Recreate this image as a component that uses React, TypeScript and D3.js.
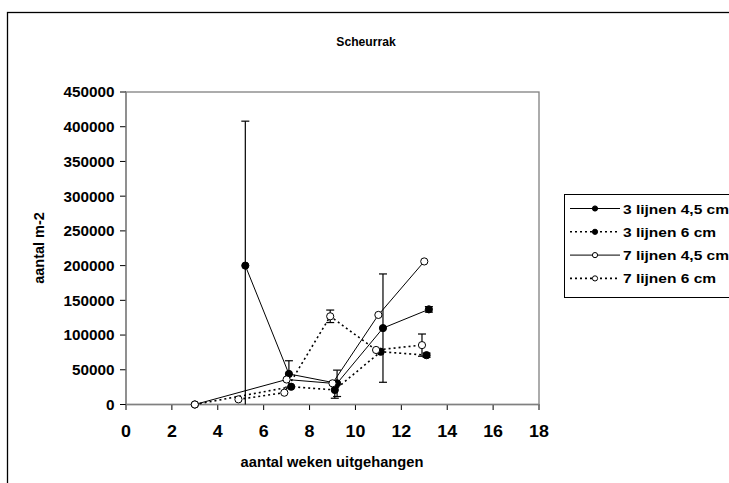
import { useEffect, useRef } from "react";
import * as d3 from "d3";

const W = 729;
const H = 483;

const seriesNames = ["3 lijnen 4,5 cm", "3 lijnen 6 cm", "7 lijnen 4,5 cm", "7 lijnen 6 cm"];
const seriesDotted = [false, true, false, true];
const seriesFilled = [true, true, false, false];

// weeks, counts and error (0 = no bar) per series
const s1Weeks = [5.2, 7.1, 9.2, 11.2, 13.2];
const s1Values = [200000, 44000, 30500, 110000, 137000];
const s1Errors = [208000, 19000, 19000, 78000, 4000];

const s2Weeks = [3, 7.2, 9.1, 11.1, 13.1];
const s2Values = [0, 25600, 21000, 76000, 71000];
const s2Errors = [0, 0, 12000, 0, 3000];

const s3Weeks = [3, 7, 9, 11, 13];
const s3Values = [0, 36000, 30500, 129000, 206000];
const s3Errors = [0, 0, 0, 0, 0];

const s4Weeks = [4.9, 6.9, 8.9, 10.9, 12.9];
const s4Values = [7400, 17000, 127000, 78500, 85500];
const s4Errors = [0, 0, 9000, 0, 16000];

const xTicks = [0, 2, 4, 6, 8, 10, 12, 14, 16, 18];
const yTicks = [0, 50000, 100000, 150000, 200000, 250000, 300000, 350000, 400000, 450000];

const FONT = "'Liberation Sans', Arial, sans-serif";

const App = () => {
  const svgRef = useRef<SVGSVGElement>(null);

  useEffect(() => {
    const svg = d3.select(svgRef.current);
    svg.selectAll("*").remove();

    const x = d3.scaleLinear().domain([0, 18]).range([126, 539]);
    const y = d3.scaleLinear().domain([0, 450000]).range([404.5, 92]);

    // bold text, stretched horizontally like the original export
    const label = (tx: number, ty: number, txt: string, size: number, sx: number, anchor: string, rot = 0) =>
      svg
        .append("text")
        .attr("transform", `translate(${tx},${ty}) rotate(${rot}) scale(${sx},1)`)
        .attr("text-anchor", anchor)
        .attr("font-family", FONT)
        .attr("font-weight", "bold")
        .attr("font-size", size)
        .attr("fill", "#000")
        .text(txt);

    // outer chart frame (runs off the page right/bottom)
    svg
      .append("rect")
      .attr("x", 7.5)
      .attr("y", 12.5)
      .attr("width", 900)
      .attr("height", 700)
      .attr("fill", "white")
      .attr("stroke", "#000")
      .attr("stroke-width", 1.3);

    // plot area frame
    svg
      .append("rect")
      .attr("x", 126)
      .attr("y", 92)
      .attr("width", 413)
      .attr("height", 312.5)
      .attr("fill", "none")
      .attr("stroke", "#808080")
      .attr("stroke-width", 1.3);

    label(366, 46, "Scheurrak", 13.5, 0.9, "middle");

    // axes
    const ax = svg.append("g").attr("stroke", "#000").attr("stroke-width", 1);
    xTicks.forEach((t) => {
      ax.append("line").attr("x1", x(t)).attr("x2", x(t)).attr("y1", 404.5).attr("y2", 410);
      label(x(t), 437, String(t), 17, 1.05, "middle");
    });
    yTicks.forEach((t) => {
      ax.append("line").attr("x1", 120).attr("x2", 126).attr("y1", y(t)).attr("y2", y(t));
      label(114.5, y(t) + 5.4, String(t), 15, 1.02, "end");
    });
    svg
      .append("line")
      .attr("x1", 126)
      .attr("x2", 539)
      .attr("y1", 404.5)
      .attr("y2", 404.5)
      .attr("stroke", "#808080")
      .attr("stroke-width", 1.3);
    svg
      .append("line")
      .attr("x1", 126)
      .attr("x2", 126)
      .attr("y1", 92)
      .attr("y2", 404.5)
      .attr("stroke", "#808080")
      .attr("stroke-width", 1.3);

    label(332, 466.5, "aantal weken uitgehangen", 14, 1.05, "middle");
    label(44, 248, "aantal m-2", 14.5, 1, "middle", -90);

    const all = [
      { w: s1Weeks, v: s1Values, e: s1Errors },
      { w: s2Weeks, v: s2Values, e: s2Errors },
      { w: s3Weeks, v: s3Values, e: s3Errors },
      { w: s4Weeks, v: s4Values, e: s4Errors },
    ];

    const line = d3
      .line<[number, number]>()
      .x((d) => x(d[0]))
      .y((d) => y(d[1]));

    // error bars
    all.forEach((s) => {
      s.w.forEach((wk, i) => {
        const err = s.e[i];
        if (!err) return;
        const lo = Math.max(0, s.v[i] - err);
        const hi = s.v[i] + err;
        const g = svg.append("g").attr("stroke", "#000").attr("stroke-width", 1.2);
        g.append("line").attr("x1", x(wk)).attr("x2", x(wk)).attr("y1", y(lo)).attr("y2", y(hi));
        g.append("line").attr("x1", x(wk) - 4).attr("x2", x(wk) + 4).attr("y1", y(hi)).attr("y2", y(hi));
        if (s.v[i] - err > 0)
          g.append("line").attr("x1", x(wk) - 4).attr("x2", x(wk) + 4).attr("y1", y(lo)).attr("y2", y(lo));
      });
    });

    // lines then markers
    all.forEach((s, k) => {
      const pts = s.w.map((wk, i) => [wk, s.v[i]] as [number, number]);
      svg
        .append("path")
        .attr("d", line(pts))
        .attr("fill", "none")
        .attr("stroke", "#000")
        .attr("stroke-width", seriesDotted[k] ? 1.6 : 1)
        .attr("stroke-dasharray", seriesDotted[k] ? "2,3" : null);
    });
    all.forEach((s, k) => {
      svg
        .append("g")
        .selectAll("circle")
        .data(s.w.map((wk, i) => [wk, s.v[i]]))
        .join("circle")
        .attr("cx", (d) => x(d[0]))
        .attr("cy", (d) => y(d[1]))
        .attr("r", 3.6)
        .attr("fill", seriesFilled[k] ? "#000" : "#fff")
        .attr("stroke", "#000")
        .attr("stroke-width", 1);
    });

    // legend
    svg
      .append("rect")
      .attr("x", 564.5)
      .attr("y", 194.5)
      .attr("width", 200)
      .attr("height", 103)
      .attr("fill", "white")
      .attr("stroke", "#000")
      .attr("stroke-width", 1);
    seriesNames.forEach((name, k) => {
      const cy = 208.5 + k * 23.3;
      svg
        .append("line")
        .attr("x1", 570)
        .attr("x2", 620)
        .attr("y1", cy)
        .attr("y2", cy)
        .attr("stroke", "#000")
        .attr("stroke-width", seriesDotted[k] ? 1.6 : 1)
        .attr("stroke-dasharray", seriesDotted[k] ? "2,3" : null);
      svg
        .append("circle")
        .attr("cx", 595)
        .attr("cy", cy)
        .attr("r", 2.6)
        .attr("fill", seriesFilled[k] ? "#000" : "#fff")
        .attr("stroke", "#000");
      label(623, cy + 5, name, 13.5, 1.15, "start");
    });
  }, []);

  return (
    <svg
      ref={svgRef}
      width={W}
      height={H}
      style={{ position: "absolute", left: 0, top: 0, background: "#fff" }}
    ></svg>
  );
};

export default App;
